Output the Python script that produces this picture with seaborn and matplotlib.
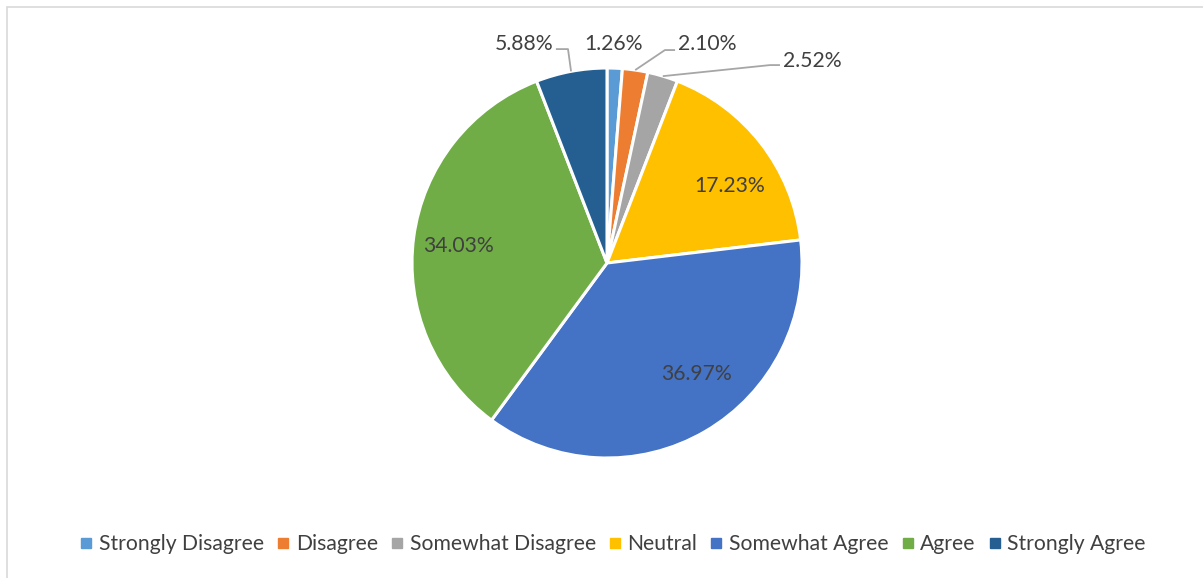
import numpy as np
import matplotlib
matplotlib.use("Agg")
import matplotlib.pyplot as plt
from matplotlib.lines import Line2D
from matplotlib.patches import Rectangle
import seaborn as sns

categories = ["Strongly Disagree", "Disagree", "Somewhat Disagree", "Neutral",
              "Somewhat Agree", "Agree", "Strongly Agree"]
values = [1.26, 2.10, 2.52, 17.23, 36.97, 34.03, 5.88]
labels = ["1.26%", "2.10%", "2.52%", "17.23%", "36.97%", "34.03%", "5.88%"]
colors = ["#5B9BD5", "#ED7D31", "#A5A5A5", "#FFC000", "#4472C4", "#70AD47", "#255E91"]

sns.set_theme(style="white")
plt.rcParams['font.family'] = ['Lato', 'DejaVu Sans']
TXT = "#404040"

W, H = 1203, 578
fig = plt.figure(figsize=(W / 100, H / 100), dpi=100)
ax = fig.add_axes([0, 0, 1, 1])
cx, cy, R = 607, 263, 195
ax.axis("off")

wedges, _ = ax.pie(values, colors=colors, startangle=90, counterclock=False,
                   radius=1, center=(0, 0), frame=False,
                   wedgeprops=dict(edgecolor="white", linewidth=2.2))
ax.set_xlim(-cx / R, (W - cx) / R)
ax.set_ylim(-(H - cy) / R, cy / R)
ax.set_aspect("auto")

fs = 15.2
# inside labels (Neutral, Somewhat Agree, Agree)
inside = {3: (0.63, 0.395), 4: (0.46, -0.57), 5: (-0.764, 0.087)}
for i, (x, y) in inside.items():
    ax.text(x, y, labels[i], ha="center", va="center", fontsize=fs, color=TXT)

# outside labels with leader lines
cum = np.cumsum([0] + values[:-1])
mids = [90 - 360 * (c + v / 2) / 100 for c, v in zip(cum, values)]

def edge(i):
    a = np.deg2rad(mids[i])
    return np.cos(a), np.sin(a)

# Strongly Disagree: no leader
ax.text(0.036, 1.123, labels[0], ha="center", va="center", fontsize=fs, color=TXT)

lc = "#A6A6A6"
# Disagree
ex, ey = edge(1)
ax.plot([ex, 0.297, 0.349], [ey, 1.092, 1.092], color=lc, lw=1.3, solid_capstyle="butt")
ax.text(0.362, 1.123, labels[1], ha="left", va="center", fontsize=fs, color=TXT)
# Somewhat Disagree
ex, ey = edge(2)
ax.plot([ex, 0.836, 0.887], [ey, 1.015, 1.015], color=lc, lw=1.3, solid_capstyle="butt")
ax.text(0.9, 1.036, labels[2], ha="left", va="center", fontsize=fs, color=TXT)
# Strongly Agree
ex, ey = edge(6)
ax.plot([ex, -0.2, -0.262], [ey, 1.097, 1.097], color=lc, lw=1.3, solid_capstyle="butt")
ax.text(-0.274, 1.123, labels[6], ha="right", va="center", fontsize=fs, color=TXT)

handles = [Line2D([0], [0], marker="s", linestyle="none", markersize=6.5,
                  markerfacecolor=c, markeredgecolor=c) for c in colors]
fig.legend(handles, categories, loc="center", bbox_to_anchor=(0.5095, 1 - 544 / H),
           ncol=7, frameon=False, fontsize=fs, labelcolor=TXT,
           handlelength=0.6, handletextpad=0.3, columnspacing=0.6)

fig.patches.append(Rectangle((6.5 / W, -0.1), 1.2, 1 - 6.5 / H + 0.1,
                             transform=fig.transFigure, fill=False,
                             edgecolor="#D9D9D9", linewidth=1.2))

fig.savefig("out.png", dpi=100, facecolor="white")
